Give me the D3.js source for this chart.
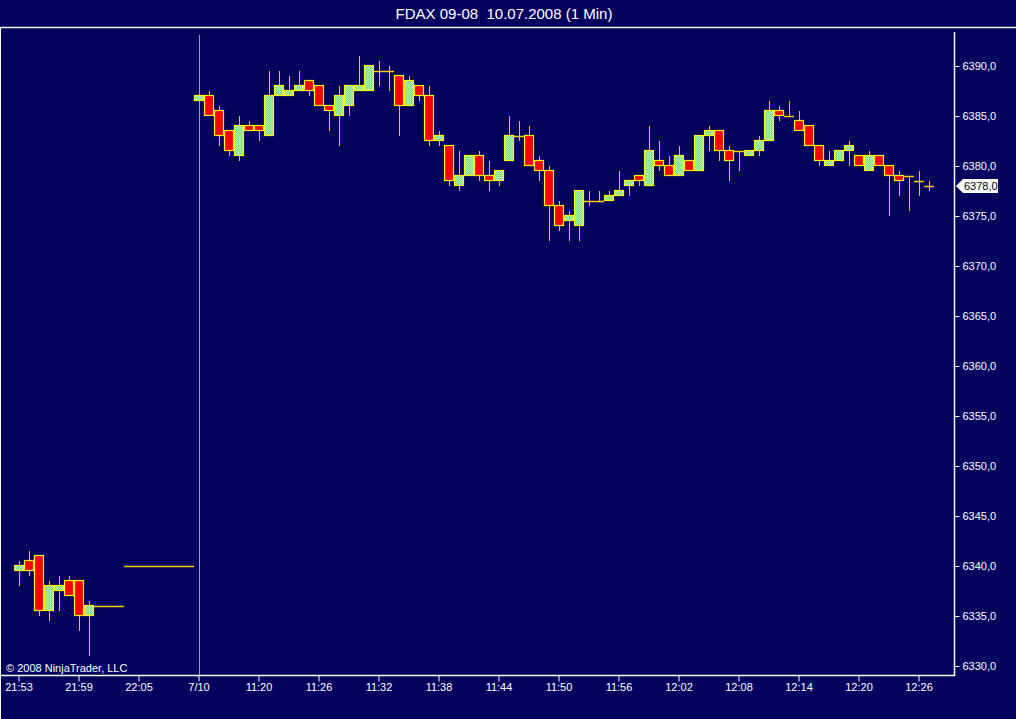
<!DOCTYPE html>
<html><head><meta charset="utf-8">
<script src="https://cdn.jsdelivr.net/npm/d3@7"></script>
<style>html,body{margin:0;padding:0;background:#02025e;overflow:hidden}</style>
</head><body><svg id="c" width="1016" height="719"></svg>
<script>
const title = "FDAX 09-08  10.07.2008 (1 Min)";
const barTimes = ["21:53","21:54","21:55","21:56","21:57","21:58","21:59","22:00","22:01","22:02","22:03","22:04","22:05","22:06","22:07","22:08","22:09","22:10",
"11:14","11:15","11:16","11:17","11:18","11:19","11:20","11:21","11:22","11:23","11:24","11:25","11:26","11:27","11:28","11:29","11:30","11:31","11:32","11:33","11:34","11:35","11:36","11:37","11:38","11:39","11:40","11:41","11:42","11:43","11:44","11:45","11:46","11:47","11:48","11:49","11:50","11:51","11:52","11:53","11:54","11:55","11:56","11:57","11:58","11:59","12:00","12:01","12:02","12:03","12:04","12:05","12:06","12:07","12:08","12:09","12:10","12:11","12:12","12:13","12:14","12:15","12:16","12:17","12:18","12:19","12:20","12:21","12:22","12:23","12:24","12:25","12:26","12:27"];
const openV = [6339.5,6340.5,6341,6335.5,6337.5,6338.5,6338.5,6335,6336,6336,6336,6340,6340,6340,6340,6340,6340,6340,
6386.5,6387,6385.5,6383.5,6381,6384,6384,6383,6387,6387,6387.5,6388.5,6388,6386,6385,6386,6387.5,6387.5,6389.5,6389.5,6389,6386,6388,6387,6382.5,6382,6378,6379,6381,6379,6378.5,6380.5,6383,6383,6380.5,6379.5,6376,6374.5,6374,6376.5,6376.5,6376.5,6377,6378,6379,6378,6380.5,6380,6379,6380.5,6379.5,6383,6383.5,6381.5,6381.5,6381,6381.5,6382.5,6385.5,6385,6384.5,6384,6382,6380,6380.5,6381.5,6381,6379.5,6381,6380,6379,6379,6378.5,6378];
const highV = [6340.5,6341.5,6341,6338.5,6339,6339,6338.5,6336.5,6336,6336,6336,6340,6340,6340,6340,6340,6340,6340,
6387,6387.5,6386,6383.5,6385,6384.5,6384,6389.5,6389.5,6389,6389.5,6388.5,6388,6386,6388,6388,6391,6390,6390.5,6390,6389,6389,6388,6388,6383.5,6382,6381.5,6381,6381.5,6380.5,6379.5,6385,6384.5,6384,6381,6380,6376.5,6375.5,6377.5,6377.5,6377.5,6377.5,6379.5,6378.5,6379,6384,6382.5,6381,6382,6380.5,6383,6384,6383.5,6382,6381.5,6381.5,6383,6386.5,6386,6386.5,6385.5,6384,6382,6381.5,6381.5,6382.5,6381,6381.5,6381,6380,6379.5,6379,6379.5,6378.5];
const lowV = [6338,6339,6335,6334.5,6335.5,6337,6333.5,6331,6336,6336,6336,6340,6340,6340,6340,6340,6340,6340,
6386.5,6385,6382,6381,6380.5,6383.5,6382.5,6383,6387,6387,6387.5,6387,6386,6383.5,6382,6385,6387.5,6387.5,6388,6387.5,6383,6386,6386.5,6382,6382,6378,6377.5,6379,6378.5,6377.5,6378,6380.5,6382.5,6380,6378.5,6372.5,6373.5,6372.5,6372.5,6376,6376.5,6376.5,6377,6377,6378,6378,6379.5,6379,6379,6379.5,6379.5,6381.5,6380.5,6378.5,6379.5,6381,6381,6382.5,6384.5,6385,6383.5,6382,6380,6380,6380.5,6380,6380,6379.5,6380,6375,6377,6375.5,6377,6377.5];
const closeV = [6340,6339.5,6335.5,6338,6338,6337,6335,6336,6336,6336,6336,6340,6340,6340,6340,6340,6340,6340,
6387,6385,6383,6381.5,6384,6383.5,6383.5,6387,6388,6387.5,6388,6387.5,6386,6385.5,6387,6388,6388,6390,6389.5,6389.5,6386,6388.5,6387,6382.5,6383,6378.5,6379,6381,6379,6378.5,6379.5,6383,6383,6380,6379.5,6376,6374,6375,6377.5,6376.5,6376.5,6377,6377.5,6378.5,6378.5,6381.5,6380,6379,6381,6379.5,6383,6383.5,6381.5,6380.5,6381.5,6381.5,6382.5,6385.5,6385,6385,6383.5,6382,6380.5,6380.5,6381.5,6382,6380,6381,6380,6379,6378.5,6379,6378.5,6378];
const xTickIdx = [0,6,12,18,24,30,36,42,48,54,60,66,72,78,84,90];
const xTickLabels = ["21:53","21:59","22:05","7/10","11:20","11:26","11:32","11:38","11:44","11:50","11:56","12:02","12:08","12:14","12:20","12:26"];
const yTicks = [6330,6335,6340,6345,6350,6355,6360,6365,6370,6375,6380,6385,6390];
const sessionBreakIdx = 18;
const lastPrice = 6378.0;

const svg = d3.select("#c");
const BG = "#02025e";
svg.append("rect").attr("width",1016).attr("height",719).attr("fill",BG);

// pattern for up bars
const defs = svg.append("defs");
const pat = defs.append("pattern").attr("id","up").attr("width",2).attr("height",2).attr("patternUnits","userSpaceOnUse");
pat.append("rect").attr("width",2).attr("height",2).attr("fill","#b4f8b4");
pat.append("rect").attr("x",0).attr("y",0).attr("width",1).attr("height",1).attr("fill","#7cd87c");
pat.append("rect").attr("x",1).attr("y",1).attr("width",1).attr("height",1).attr("fill","#7cd87c");

const idx = d3.range(barTimes.length);
const x = d3.scaleBand().domain(idx).range([14, 14 + 10*barTimes.length]).padding(0);
const cx = i => x(i) + x.bandwidth()/2;
const y = d3.scaleLinear().domain([6330, 6390]).range([666, 66]);

const plotTop = 32, plotBottom = 675.5, axisX = 954.5;

// title
svg.append("text").attr("x",504).attr("y",19).attr("text-anchor","middle").style("white-space","pre")
  .attr("fill","#fff").attr("font-family","Liberation Sans, Arial, sans-serif").attr("font-size",15).text(title);
svg.append("line").attr("x1",0).attr("x2",1016).attr("y1",27.5).attr("y2",27.5).attr("stroke","#fff").attr("stroke-width",1.5);
svg.append("line").attr("x1",0.5).attr("x2",0.5).attr("y1",27).attr("y2",719).attr("stroke","#fff").attr("stroke-width",1);

// session break
svg.append("line").attr("x1",cx(sessionBreakIdx)+0.5).attr("x2",cx(sessionBreakIdx)+0.5).attr("y1",35).attr("y2",plotBottom)
  .attr("stroke","#a0a0c0").attr("stroke-width",1);

// candles
const g = svg.append("g");
const WICK = "#f0c020", OUT = "#ffff00", FLAT = "#f8d000";
idx.forEach(i => {
  const o = openV[i], h = highV[i], l = lowV[i], c = closeV[i];
  const xc = Math.round(cx(i)) + 0.5;
  if (h !== l) g.append("line").attr("x1",xc).attr("x2",xc).attr("y1",y(h)).attr("y2",y(l)).attr("stroke",WICK).attr("stroke-width",1);
  if (o === c) {
    g.append("line").attr("x1",x(i)).attr("x2",x(i)+x.bandwidth()).attr("y1",y(c)+0.5).attr("y2",y(c)+0.5).attr("stroke",FLAT).attr("stroke-width",1.5);
  } else {
    const top = y(Math.max(o,c)), bot = y(Math.min(o,c));
    g.append("rect").attr("x",x(i)+0.5).attr("y",top-0.5).attr("width",x.bandwidth()-1).attr("height",bot-top)
      .attr("fill", c > o ? "url(#up)" : "#ff0000").attr("stroke",OUT).attr("stroke-width",1.2);
  }
});

const FONT = "Liberation Sans, Arial, sans-serif";
// right axis
const yAxis = d3.axisRight(y).tickValues(yTicks).tickSize(5).tickSizeOuter(0)
  .tickFormat(d => d3.format(".1f")(d).replace(".", ","));
const ya = svg.append("g").attr("transform",`translate(${axisX},0)`).call(yAxis);
ya.select(".domain").remove();
ya.selectAll(".tick line").attr("stroke","#fff");
ya.selectAll(".tick text").attr("fill","#fff").attr("font-family",FONT).attr("font-size",11).attr("x",8);
svg.append("line").attr("x1",axisX).attr("x2",axisX).attr("y1",plotTop).attr("y2",plotBottom).attr("stroke","#fff").attr("stroke-width",1.5);

// bottom axis
const xAxis = d3.axisBottom(x).tickValues(xTickIdx).tickSize(6).tickSizeOuter(0)
  .tickFormat(d => xTickLabels[xTickIdx.indexOf(d)]);
const xa = svg.append("g").attr("transform",`translate(0,${plotBottom})`).call(xAxis);
xa.select(".domain").remove();
xa.selectAll(".tick line").attr("stroke","#fff");
xa.selectAll(".tick text").attr("fill","#fff").attr("font-family",FONT).attr("font-size",11).attr("y",8);
svg.append("line").attr("x1",0).attr("x2",axisX+0.75).attr("y1",plotBottom).attr("y2",plotBottom).attr("stroke","#fff").attr("stroke-width",1.5);

// copyright
svg.append("text").attr("x",6).attr("y",672).attr("fill","#fff").attr("font-family",FONT).attr("font-size",11).text("© 2008 NinjaTrader, LLC");

// last price marker
const py = y(lastPrice);
svg.append("path").attr("d",`M956,${py} L963,${py-7} L998,${py-7} L998,${py+7} L963,${py+7} Z`).attr("fill","#fff");
svg.append("text").attr("x",964).attr("y",py+4).attr("fill","#000").attr("font-family",FONT).attr("font-size",11).text(d3.format(".1f")(lastPrice).replace(".", ","));
</script></body></html>
